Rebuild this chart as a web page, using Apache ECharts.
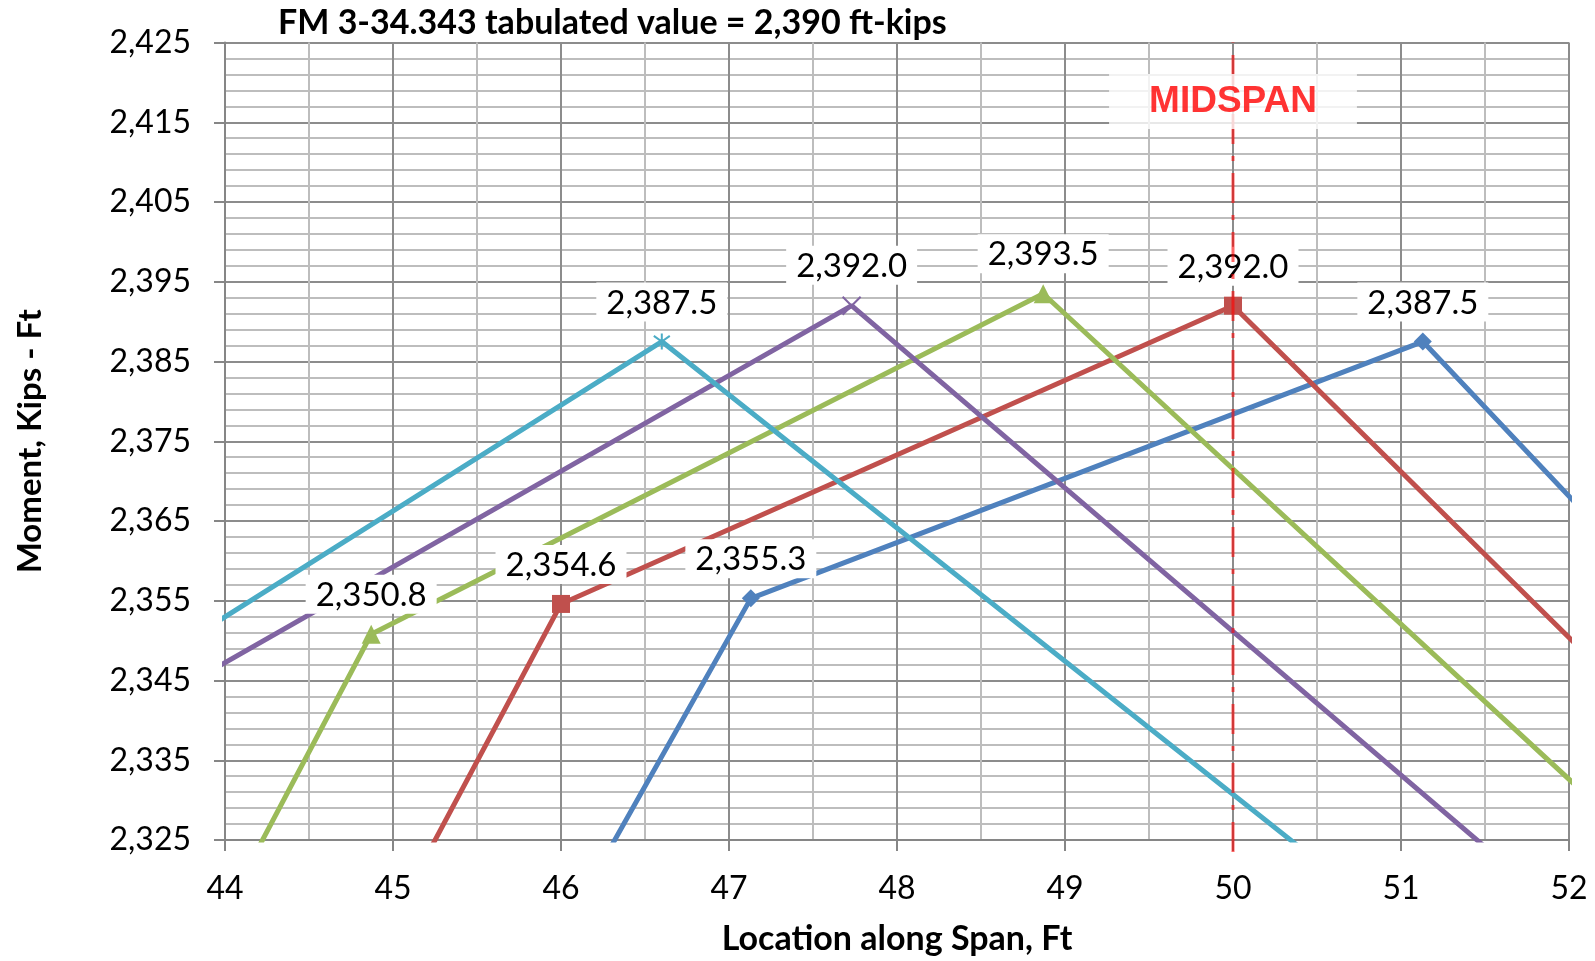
<!DOCTYPE html>
<html>
<head>
<meta charset="utf-8">
<script src="https://cdn.jsdelivr.net/npm/echarts@6/dist/echarts.min.js"></script>
<style>
html,body{margin:0;padding:0;background:#fff;}
#chart{width:1595px;height:961px;}
</style>
</head>
<body>
<div id="chart"></div>
<script>
// ---- data ----
const titleText = 'FM 3-34.343 tabulated value = 2,390 ft-kips';
const xAxisTitle = 'Location along Span, Ft';
const yAxisTitle = 'Moment, Kips - Ft';
const xMin = 44, xMax = 52, xStep = 1;
const yMin = 2325, yMax = 2425, yStep = 10;

const blueX   = [46.13, 47.13, 51.13, 53.13];
const blueY   = [2317.9, 2355.3, 2387.5, 2342.9];
const redX    = [45.0, 46.0, 50.0, 53.0];
const redY    = [2315.1, 2354.6, 2392.0, 2329.6];
const greenX  = [43.87, 44.87, 48.87, 52.87];
const greenY  = [2310.9, 2350.8, 2393.5, 2315.7];
const purpleX = [42.73, 43.73, 47.73, 51.73];
const purpleY = [2305.0, 2344.0, 2392.0, 2320.0];
const cyanX   = [41.6, 42.6, 46.6, 50.6];
const cyanY   = [2295.0, 2334.4, 2387.5, 2320.7];

const midspanX = 50;
const midspanY = [2323.5, 2425];
const midspanLabel = 'MIDSPAN';
const midspanLabelY = 2417.6;

// ---- build ----
const fmt = v => v.toLocaleString('en-US', {minimumFractionDigits: 1, maximumFractionDigits: 1});
const seriesDefs = [
  {name: 'blue',   xs: blueX,   ys: blueY,   color: '#4F81BD', symbol: 'diamond', size: 18},
  {name: 'red',    xs: redX,    ys: redY,    color: '#C0504D', symbol: 'rect',    size: 18},
  {name: 'green',  xs: greenX,  ys: greenY,  color: '#9BBB59', symbol: 'triangle',size: 19},
  {name: 'purple', xs: purpleX, ys: purpleY, color: '#8064A2', symbol: 'path://M0,0L10,10M10,0L0,10', size: 18, stroke: true},
  {name: 'cyan',   xs: cyanX,   ys: cyanY,   color: '#4BACC6', symbol: 'path://M0,0L10,10M10,0L0,10M5,-2L5,12', size: 16, stroke: true}
];
const inRange = (x, y) => x >= xMin && x <= xMax && y >= yMin && y <= yMax;

const series = seriesDefs.map(d => ({
  type: 'line',
  name: d.name,
  z: 3,
  clip: true,
  animation: false,
  data: d.xs.map((x, i) => {
    const y = d.ys[i];
    const item = {value: [x, y]};
    if (!inRange(x, y)) { item.symbol = 'none'; item.label = {show: false}; }
    return item;
  }),
  symbol: d.symbol,
  symbolSize: d.size,
  showAllSymbol: true,
  lineStyle: {color: d.color, width: 5},
  itemStyle: d.stroke ? {color: d.color, borderColor: d.color, borderWidth: 2} : {color: d.color, borderColor: d.color, borderWidth: 0},
  label: {
    show: true,
    position: 'top',
    distance: 11,
    formatter: p => fmt(p.value[1]),
    fontFamily: 'Lato',
    fontSize: 33,
    color: '#000',
    backgroundColor: '#fff',
    padding: [4, 10, 2, 10]
  },
  emphasis: {disabled: true}
}));

series.push({
  type: 'line',
  name: 'midspan',
  z: 6,
  clip: false,
  animation: false,
  symbol: 'none',
  data: midspanY.map(y => [midspanX, y]),
  lineStyle: {color: 'rgba(255,0,0,0.6)', width: 3, type: [30, 12, 5, 12]},
  emphasis: {disabled: true}
});
series.push({
  type: 'scatter',
  name: 'midspanLabel',
  z: 10,
  animation: false,
  symbolSize: 0,
  data: [[midspanX, midspanLabelY]],
  label: {
    show: true,
    position: 'inside',
    formatter: midspanLabel,
    fontFamily: 'Liberation Sans',
    fontWeight: 'bold',
    fontSize: 37,
    color: '#FF0000',
    backgroundColor: '#fff',
    padding: [10, 40, 8, 40]
  },
  emphasis: {disabled: true}
});

const axisFont = {fontFamily: 'Lato', fontSize: 32, color: '#000'};
const option = {
  backgroundColor: '#fff',
  animation: false,
  title: {
    text: titleText,
    left: 273,
    top: 1,
    textStyle: {fontFamily: 'Lato', fontWeight: 'bold', fontSize: 34, color: '#000'}
  },
  grid: {left: 225, right: 26, top: 42.5, bottom: 121, containLabel: false},
  xAxis: {
    type: 'value', min: xMin, max: xMax, interval: xStep,
    name: xAxisTitle, nameLocation: 'middle', nameGap: 82,
    nameTextStyle: {fontFamily: 'Lato', fontWeight: 'bold', fontSize: 34, color: '#000'},
    axisLine: {show: true, lineStyle: {color: '#868686', width: 2}},
    axisTick: {show: true, length: 11, lineStyle: {color: '#868686', width: 2}},
    axisLabel: Object.assign({margin: 33}, axisFont),
    splitLine: {show: true, lineStyle: {color: '#8c8c8c', width: 2}},
    minorTick: {show: false, splitNumber: 2},
    minorSplitLine: {show: true, lineStyle: {color: '#bdbdbd', width: 2}}
  },
  yAxis: {
    type: 'value', min: yMin, max: yMax, interval: yStep,
    name: yAxisTitle, nameLocation: 'middle', nameGap: 178, nameRotate: 90,
    nameTextStyle: {fontFamily: 'Lato', fontWeight: 'bold', fontSize: 33, color: '#000'},
    axisLine: {show: true, lineStyle: {color: '#868686', width: 2}},
    axisTick: {show: true, length: 11, lineStyle: {color: '#868686', width: 2}},
    axisLabel: Object.assign({margin: 34, formatter: v => v.toLocaleString('en-US')}, axisFont),
    splitLine: {show: true, lineStyle: {color: '#8c8c8c', width: 2}},
    minorTick: {show: false, splitNumber: 5},
    minorSplitLine: {show: true, lineStyle: {color: '#bdbdbd', width: 2}}
  },
  series: series
};
const chart = echarts.init(document.getElementById('chart'), null, {renderer: 'canvas'});
chart.setOption(option);
</script>
</body>
</html>
